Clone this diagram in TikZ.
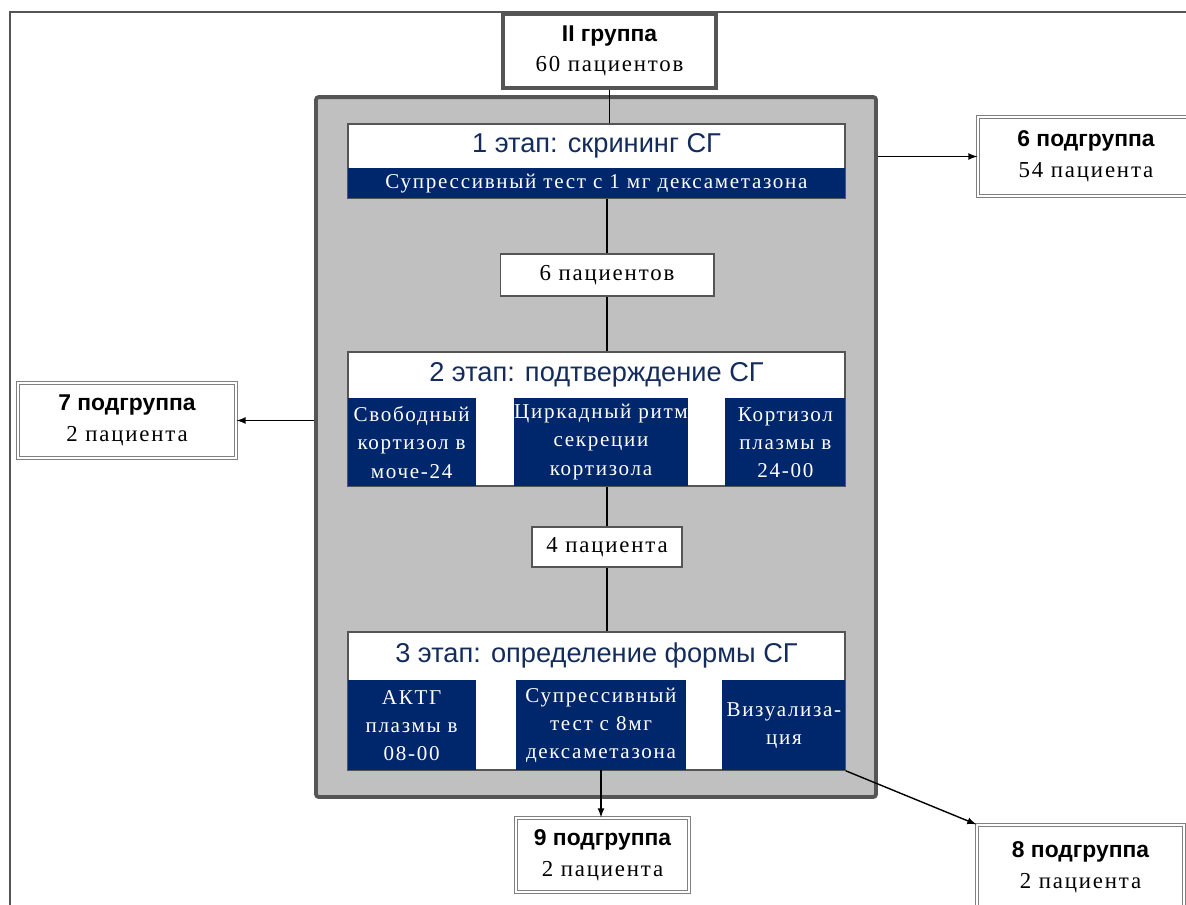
\documentclass[tikz,border=0pt]{standalone}
\usepackage{fontspec}
\setmainfont[LetterSpace=8]{Liberation Serif}
\setsansfont{Liberation Sans}
\usetikzlibrary{arrows, positioning}

\definecolor{navy}{RGB}{0,38,108}
\definecolor{ttlblue}{RGB}{20,44,92}
\definecolor{panelgray}{RGB}{192,192,192}
\definecolor{rimgray}{RGB}{85,85,85}

\begin{document}
\begin{tikzpicture}[x=0.02cm, y=-0.02cm,
        every node/.style={inner sep=0pt, align=center},
        grp/.style={draw=rimgray, line width=2.2pt, fill=white, font=\fontsize{13}{17}\selectfont},
        sub/.style={draw=gray, double=white, double distance=0.8pt, line width=0.7pt, fill=white,
            font=\fontsize{13}{17.5}\selectfont},
        panel/.style={draw=rimgray, line width=0.9pt, fill=white, minimum width=9.94cm},
        title/.style={text=ttlblue, font=\sffamily\fontsize{15.5}{18}\selectfont, minimum width=9.94cm},
        navybox/.style={fill=navy, text=white, font=\fontsize{12}{16}\selectfont},
        count/.style={draw=rimgray, line width=0.6pt, fill=white, font=\fontsize{13}{17}\selectfont},
        link/.style={line width=0.8pt},
        head/.style={font=\sffamily\bfseries\fontsize{13.5}{17}\selectfont}
    ]
        \useasboundingbox (0,0) rectangle (1186,904);
        \clip (0,0) rectangle (1186,904);

        % рамка
        \draw[rimgray, line width=1.3pt] (10,920) |- (1200,12);

        % группа и этапы
        \node[grp, minimum width=4.26cm, minimum height=1.48cm] (top) at (609.5,51)
            {{\sffamily\bfseries II группа}\\60 пациентов};
        \node[draw=rimgray, line width=2.2pt, fill=panelgray, rounded corners=1.5pt,
            minimum width=11.2cm, minimum height=14cm] (stages) at (596,447) {};

        % 1 этап
        \node[panel, minimum height=1.48cm] (st1) at (596.5,161) {};
        \node[title, minimum height=0.88cm, below=0pt of st1.north] (st1h) {1 этап: скрининг СГ};
        \node[navybox, minimum width=9.94cm, minimum height=0.6cm, above=0pt of st1.south] (st1b)
            {Супрессивный тест с 1 мг дексаметазона};

        \node[count, minimum width=4.28cm, minimum height=0.84cm] (n6) at (607,275) {6 пациентов};

        % 2 этап
        \node[panel, minimum height=2.68cm] (st2) at (596.5,419) {};
        \node[title, minimum height=0.92cm, below=0pt of st2.north] (st2h) {2 этап: подтверждение СГ};
        \node[navybox, minimum width=2.56cm, minimum height=1.76cm, above right=0pt of st2.south west] (v21)
            {Свободный\\кортизол в\\моче-24};
        \node[navybox, minimum width=3.4cm, minimum height=1.76cm] (v22) at (601,442)
            {Циркадный ритм\\секреции\\кортизола};
        \node[navybox, minimum width=2.4cm, minimum height=1.76cm, above left=0pt of st2.south east] (v23)
            {Кортизол\\плазмы в\\24-00};

        \node[count, minimum width=3cm, minimum height=0.8cm] (n4) at (607,547) {4 пациента};

        % 3 этап
        \node[panel, minimum height=2.76cm] (st3) at (596.5,701) {};
        \node[title, minimum height=0.96cm, below=0pt of st3.north] (st3h) {3 этап: определение формы СГ};
        \node[navybox, minimum width=2.56cm, minimum height=1.8cm, above right=0pt of st3.south west] (v31)
            {АКТГ\\плазмы в\\08-00};
        \node[navybox, minimum width=3.4cm, minimum height=1.8cm] (v32) at (601,725)
            {Супрессивный\\тест с 8мг\\дексаметазона};
        \node[navybox, minimum width=2.46cm, minimum height=1.8cm, above left=0pt of st3.south east] (v33)
            {Визуализа-\\ция};

        % подгруппы
        \node[sub, minimum width=4.32cm, minimum height=1.58cm] (p6) at (1086,156.5)
            {{\sffamily\bfseries 6 подгруппа}\\54 пациента};
        \node[sub, minimum width=4.36cm, minimum height=1.5cm] (p7) at (127,420.5)
            {{\sffamily\bfseries 7 подгруппа}\\2 пациента};
        \node[sub, minimum width=4.14cm, minimum height=1.7cm] (p8) at (1080.5,867.5)
            {{\sffamily\bfseries 8 подгруппа}\\2 пациента};
        \node[sub, minimum width=3.46cm, minimum height=1.48cm] (p9) at (602.5,855)
            {{\sffamily\bfseries 9 подгруппа}\\2 пациента};

        % связи
        \draw[link] (top.south) -- (top.south |- st1.north);
        \draw[link] (n6.north |- st1.south) -- (n6.north);
        \draw[link] (n6.south) -- (n6.south |- st2.north);
        \draw[link] (n4.north |- st2.south) -- (n4.north);
        \draw[link] (n4.south) -- (n4.south |- st3.north);
        \draw[link, -latex] (stages.east |- p6.west) -- (p6.west);
        \draw[link, -latex] (stages.west |- p7.east) -- (p7.east);
        \draw[link, -latex] (v32.south) -- (v32.south |- p9.north);
        \draw[link, -latex] (v33.south east) -- (p8.north west);
    \end{tikzpicture}
\end{document}
